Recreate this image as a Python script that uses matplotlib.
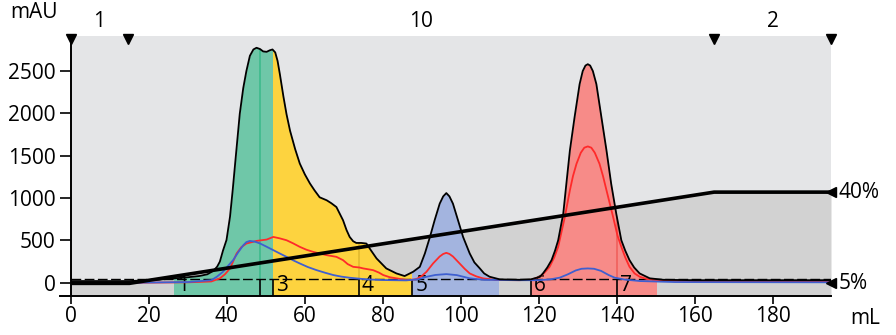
import matplotlib
matplotlib.use("Agg")
import matplotlib.pyplot as plt
import matplotlib.transforms as mtransforms
from matplotlib.patches import Rectangle
import numpy as np

plt.rcParams['font.family'] = ['Open Sans', 'DejaVu Sans']

# UV trace (mAU)
uv_x = [0, 15, 20, 25, 30, 33, 35, 36.5, 37.5, 38.2, 39, 39.9, 40.8, 41.5, 42.3, 43.3, 44.2, 45,
        45.9, 46.8, 47.6, 48.5, 49.3, 50.2, 51, 51.7, 52.4, 53, 53.6, 54.5, 55.3, 56.2, 57.5, 58.7,
        60, 61.3, 62.5, 63.8, 65.6, 66.8, 68.1, 69.8, 70.7, 71.5, 72.4, 73.2, 74.5, 75.8, 77, 78.4,
        80.9, 83.5, 85.6, 87.8, 89.5, 90.8, 92.1, 93.3, 94.6, 95.5, 96.3, 97.1, 98, 99.3, 100.6,
        102.3, 103.5, 104.9, 106, 107.4, 110, 115, 118, 120.3, 121.1, 122.2, 123.3, 124.2, 125,
        126.3, 127.1, 128, 129.2, 130.5, 131.3, 132, 132.6, 133.2, 133.9, 134.8, 136.1, 137.4,
        138.6, 139.9, 141.2, 142.2, 143.3, 144.5, 145.9, 148.5, 152, 160, 195]
uv_y = [20, 20, 30, 45, 65, 80, 100, 140, 190, 250, 380, 505, 780, 1100, 1500, 1995, 2300, 2500,
        2680, 2755, 2775, 2760, 2732, 2727, 2745, 2755, 2720, 2620, 2461, 2200, 1990, 1796, 1580, 1408,
        1280, 1173, 1090, 1009, 974, 939, 894, 738, 622, 541, 490, 470, 470, 463, 380, 287,
        169, 110, 79, 130, 188, 346, 541, 738, 934, 1020, 1059, 1020, 934, 738, 541,
        346, 240, 169, 110, 71, 40, 35, 40, 70, 110, 180, 267, 380, 502,
        816, 1169, 1561, 1953, 2346, 2500, 2565, 2581, 2565, 2500, 2346, 1953, 1561,
        1169, 816, 502, 380, 267, 180, 110, 52, 35, 30, 30]

# second wavelength (red)
red_x = [0, 15, 30, 36, 38.2, 39.5, 40.8, 42.5, 43.7, 45, 47.6, 50.2, 51.9, 53.5, 55.3, 57, 58.7,
         60.4, 62.1, 63.8, 65.6, 68.1, 69.8, 71, 72.4, 74, 75, 77.5, 79, 80.1, 81.8, 83.5, 86.1,
         88.5, 90, 91.2, 92.9, 94.6, 95.5, 96.3, 97.1, 98, 99.7, 101, 102.3, 104, 105.7, 109.2,
         115, 118, 120.3, 121.5, 122.8, 124, 125, 126.7, 128, 128.8, 129.7, 130.8, 131.7, 132.6,
         133.5, 134.4, 135.6, 136.5, 137.4, 139.1, 140.2, 141.2, 142.2, 143.3, 144.6, 145.9, 148,
         152, 160, 195]
red_y = [0, 0, 5, 15, 52, 100, 169, 346, 420, 463, 494, 510, 541, 525, 502, 465, 424,
         390, 365, 345, 326, 306, 267, 220, 188, 180, 169, 149, 120, 91, 65, 52, 32,
         40, 80, 129, 228, 310, 340, 353, 340, 310, 228, 165, 110, 75, 52, 32,
         30, 35, 71, 120, 188, 300, 424, 776, 1091, 1260, 1405, 1535, 1595, 1610,
         1595, 1535, 1405, 1260, 1091, 776, 560, 424, 300, 188, 110, 71, 40,
         25, 15, 10]

# third wavelength (blue)
blue_x = [0, 15, 30, 36, 37.4, 39, 40.3, 41.6, 42.9, 44.2, 45, 45.9, 47.2, 48.5, 50.2, 51.9, 53.6,
          55.3, 57, 58.7, 60.8, 63, 65.2, 67.3, 69.4, 71.5, 75.8, 80, 86, 89, 91.2, 93.5, 96.3,
          99, 102.3, 106, 115, 120, 123, 125.4, 127.5, 129.5, 131, 132.6, 134.2, 136, 138, 139.5,
          142, 146, 155, 195]
blue_y = [0, 0, 8, 30, 70, 130, 200, 267, 360, 443, 480, 494, 485, 464, 425, 385, 345,
          306, 265, 228, 185, 149, 118, 91, 72, 59, 40, 32, 28, 40, 70, 92, 102,
          90, 52, 35, 30, 30, 40, 60, 100, 145, 165, 169, 165, 140, 90, 60,
          38, 20, 8, 5]

# gradient (%B)
grad_x = [0, 15, 165, 195]
grad_pct = [5, 5, 40, 40]

# fractions and pools
frac_start = [26.4, 48.5, 51.9, 73.9, 87.6, 118.0, 140.1]
frac_label = ['1', '2', '3', '4', '5', '6', '7']
pool_ranges = [(26.4, 51.9), (51.9, 87.6), (87.6, 109.5), (118.0, 150.2)]
pool_colors = ['#6fc7a8', '#fdd33f', '#a3b4df', '#f78b88']
pool_lines = ['#3dba8c', '#e2b92f', '#a3b4df', '#f0605c']

# run log marks on top
log_x = [0, 14.5, 165, 195]
log_label = ['1', '10', '2']

ybot, ytop = -153, 2914
frac_level = 40
fs = 15

fig = plt.figure(figsize=(8.96, 3.35), dpi=100)
ax = fig.add_axes([71 / 896, 1 - 295.7 / 335, 760 / 896, 259.7 / 335])
ax.set_facecolor('#e4e5e7')
ax.set_xlim(0, 195)
ax.set_ylim(ybot, ytop)

ax2 = ax.twinx()
ax2.set_ylim(0.26, 99.9)
ax2.axis('off')

# gradient area
ax.fill_between(grad_x, 0, grad_pct, color='#d2d2d2', lw=0, zorder=1,
                transform=ax2.transData)

# pool fills under the UV trace
for (x0, x1), fc in zip(pool_ranges, pool_colors):
    poly = ax.fill_between(uv_x, ybot, uv_y, color=fc, lw=0, zorder=2)
    poly.set_clip_path(Rectangle((x0, ybot), x1 - x0, ytop - ybot, transform=ax.transData))

# fraction marks
for i, s in enumerate(frac_start):
    if i > 0:
        ax.vlines(s, ybot, frac_level, color='black', lw=1.2, zorder=4)
    for (x0, x1), lc in zip(pool_ranges, pool_lines):
        if x0 < s < x1 and i > 0:
            ax.vlines(s, frac_level, np.interp(s, uv_x, uv_y), color=lc, lw=1.2, zorder=3)
    end = frac_start[i + 1] if i + 1 < len(frac_start) else 195
    if end - s > 5:
        ax.text(s + 0.7, -35, frac_label[i], fontsize=fs, va='center', ha='left', zorder=5)

ax.plot([0, 195], [frac_level, frac_level], color='black', lw=1.0,
        dashes=(7, 2.5), zorder=4)

ax.plot(red_x, red_y, color='#ff2a2a', lw=1.3, zorder=5)
ax.plot(blue_x, blue_y, color='#3f5fd0', lw=1.3, zorder=5)
ax.plot(uv_x, uv_y, color='black', lw=1.3, zorder=6)

ax.plot(grad_x, grad_pct, color='black', lw=2.6, zorder=7, transform=ax2.transData,
        solid_capstyle='butt')
ax.plot([195, 195], [40, 5], ls='none', marker='<', ms=7, color='black', zorder=8,
        clip_on=False, transform=ax2.transData)
rt = mtransforms.blended_transform_factory(ax.transAxes, ax2.transData)
ax.text(1.0096, 40, '40%', transform=rt, fontsize=fs, va='center', ha='left')
ax.text(1.0096, 5, '5%', transform=rt, fontsize=fs, va='center', ha='left')

# top log marks
tt = mtransforms.blended_transform_factory(ax.transData, ax.transAxes)
ax.plot(log_x, [0.99] * len(log_x), ls='none', marker='v', ms=7, color='black',
        transform=tt, clip_on=False, zorder=8)
for i, lab in enumerate(log_label):
    ax.text((log_x[i] + log_x[i + 1]) / 2, 1.056, lab, transform=tt, fontsize=fs,
            ha='center', va='center')

ax.spines['top'].set_visible(False)
ax.spines['right'].set_visible(False)
ax.spines['left'].set_linewidth(1.4)
ax.spines['bottom'].set_linewidth(1.4)
ax.set_xticks(range(0, 181, 20))
ax.set_yticks(range(0, 2501, 500))
ax.tick_params(axis='x', length=5.5, width=1.2, labelsize=fs, pad=2)
ax.tick_params(axis='y', length=8, width=1.2, labelsize=fs, pad=3)
ax.text(-0.080, 1.092, 'mAU', transform=ax.transAxes, fontsize=fs, ha='left', va='center')
ax.text(1.025, -0.086, 'mL', transform=ax.transAxes, fontsize=fs, ha='left', va='center')
ax.plot([-0.014, 0], [0, 0], color='black', lw=1.4, transform=ax.transAxes, clip_on=False)

fig.savefig('out.png', dpi=100)
